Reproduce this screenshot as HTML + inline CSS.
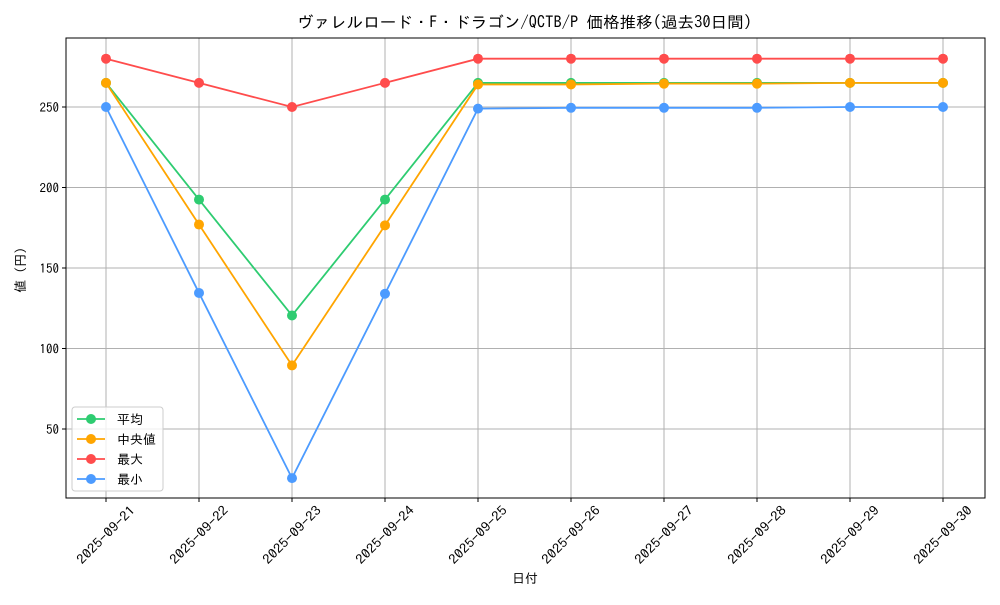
<!DOCTYPE html>
<html><head><meta charset="utf-8"><style>
body{margin:0;background:#fff;}
svg text{font-family:"IPAGothic","Noto Sans CJK JP",sans-serif;fill:#000;}
</style></head><body>
<svg id="chart" width="1000" height="600" xmlns="http://www.w3.org/2000/svg">
<text x="297" y="28" font-size="16" textLength="455" lengthAdjust="spacingAndGlyphs">ヴァレルロード・F・ドラゴン/QCTB/P 価格推移(過去30日間)</text>
<g id="grid"></g><g id="series"></g><g id="axes"></g>
<text x="525" y="583" font-size="13" text-anchor="middle">日付</text>
<text transform="translate(25,270) rotate(-90)" font-size="13" text-anchor="middle">値 (円)</text>
<g id="legend"></g>
</svg>
<script>
const dates=["2025-09-21","2025-09-22","2025-09-23","2025-09-24","2025-09-25","2025-09-26","2025-09-27","2025-09-28","2025-09-29","2025-09-30"];
const avgVals=[265,192.5,120.5,192.5,265,265,265,265,265,265];
const medVals=[265,177,89.5,176.5,264,264,264.5,264.5,265,265];
const maxVals=[280,265,250,265,280,280,280,280,280,280];
const minVals=[250,134.5,19.5,134,249,249.5,249.5,249.5,250,250];
const yTicks=[50,100,150,200,250];
const seriesNames=["平均","中央値","最大","最小"];
const NS="http://www.w3.org/2000/svg";
const L=66,R=985,T=38,B=498;
const xs=i=>106+i*(943-106)/(dates.length-1);
const ys=v=>509.5-v*1.61;
function mk(tag,attrs,parent){const e=document.createElementNS(NS,tag);for(const k in attrs)e.setAttribute(k,attrs[k]);parent.appendChild(e);return e;}
const grid=document.getElementById('grid'),axes=document.getElementById('axes'),ser=document.getElementById('series'),leg=document.getElementById('legend');
dates.forEach((d,i)=>{const x=xs(i);
 const g=mk('line',{x1:x,x2:x,y1:T,y2:B,stroke:'#b0b0b0','stroke-width':1},grid);
 
 
 const t=mk('line',{x1:x,x2:x,y1:B,y2:B+4,stroke:'#000'},axes);
 
 
 const tx=mk('text',{transform:`translate(${x},${535}) rotate(-45)`,'font-size':13,'text-anchor':'middle','dominant-baseline':'central',textLength:76,lengthAdjust:'spacingAndGlyphs'},axes);
 tx.textContent=d;
 
 
});
yTicks.forEach(v=>{const y=ys(v);
 const g=mk('line',{x1:L,x2:R,y1:y,y2:y,stroke:'#b0b0b0','stroke-width':1},grid);
 
 
 const t=mk('line',{x1:L-4,x2:L,y1:y,y2:y,stroke:'#000'},axes);
 
 
 const tx=mk('text',{x:L-7,y:y+5,'font-size':13,'text-anchor':'end'},axes);
 tx.textContent=v;
 
 
});
const fr=mk('rect',{x:L,y:T,width:R-L,height:B-T,fill:'none',stroke:'#000','stroke-width':1},axes);


const data=[avgVals,medVals,maxVals,minVals];
const colors=["#2ecc71","#ffa500","#ff4c4c","#4c9bff"];
const keys=["avg","median","max","min"];
data.forEach((vals,s)=>{
 const g=mk('g',{},ser);
 
 
 const p=mk('polyline',{points:vals.map((v,i)=>xs(i)+','+ys(v)).join(' '),fill:'none',stroke:colors[s],'stroke-width':1.8},g);
 
 
 vals.forEach((v,i)=>{const c=mk('circle',{cx:xs(i),cy:ys(v),r:5,fill:colors[s]},g);
  
  });
});
const lb=mk('rect',{x:72,y:407,width:91,height:84,rx:3,fill:'#fff','fill-opacity':0.8,stroke:'#ccc'},leg);


seriesNames.forEach((n,s)=>{const y=419+s*20;
 const g=mk('g',{},leg);
 
 
 mk('line',{x1:77,x2:105,y1:y,y2:y,stroke:colors[s],'stroke-width':1.8},g);
 mk('circle',{cx:91,cy:y,r:5,fill:colors[s]},g);
 const t=mk('text',{x:117,y:y+5,'font-size':13},g);t.textContent=n;
});
</script>
</body></html>
